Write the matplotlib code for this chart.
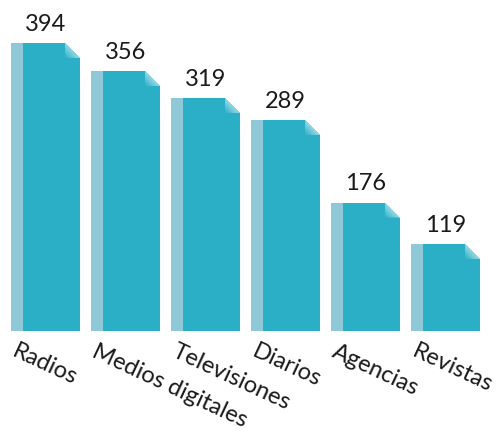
import numpy as np
import matplotlib
matplotlib.use("Agg")
import matplotlib.pyplot as plt
from matplotlib.patches import Polygon
from matplotlib.colors import LinearSegmentedColormap

plt.rcParams['font.family'] = ['Lato', 'DejaVu Sans']

categories = ["Radios", "Medios digitales", "Televisiones", "Diarios", "Agencias", "Revistas"]
values = [394, 356, 319, 289, 176, 119]

main_color = "#2aafc7"
strip_color = "#8fc9d8"

fig = plt.figure(figsize=(5.04, 4.32), dpi=100)
W, H = 504, 432
ax_bottom_px = 331
ax = fig.add_axes([0, (H - ax_bottom_px) / H, 1, ax_bottom_px / H])

pitch = 80.0
x = np.arange(len(categories))
bar_w = 69 / pitch
strip_w = 12 / pitch
ax.set_xlim(-45.5 / pitch, (W - 45.5) / pitch)
px_per_unit = 0.73
ax.set_ylim(0, ax_bottom_px / px_per_unit)
ax.axis("off")

# data units per pixel for the folded corner
dx = 1 / pitch
dy = 1 / px_per_unit
fold = 15
fold_cmap = LinearSegmentedColormap.from_list("fold", [main_color, "#ffffff"])

for xi, v in zip(x, values):
    left = xi - bar_w / 2
    right = xi + bar_w / 2
    ax.bar(left, v, width=bar_w, align="edge", color=main_color, linewidth=0)
    ax.bar(left, v, width=strip_w, align="edge", color=strip_color, linewidth=0)
    # cut corner (white)
    ax.add_patch(Polygon([(right - fold * dx, v), (right, v), (right, v - fold * dy)],
                         closed=True, color="white", linewidth=0, zorder=3))
    # folded flap with gradient
    flap = Polygon([(right - fold * dx, v), (right, v - fold * dy),
                    (right - fold * dx, v - fold * dy)], closed=True,
                   facecolor="none", linewidth=0, zorder=3)
    ax.add_patch(flap)
    g = np.linspace(0, 1, 64)
    grad = (g[None, :] + g[:, None]) / 2
    img = ax.imshow(grad, cmap=fold_cmap,
                    extent=(right - fold * dx, right, v - fold * dy, v), origin="lower",
                    aspect="auto", zorder=4)
    img.set_clip_path(flap)
    ax.annotate(str(v), (xi, v), xytext=(0, 6), textcoords="offset points",
                ha="center", va="bottom", fontsize=17, color="#1a1a1a")
    ax.annotate(categories[xi], (left, 0), xytext=(5, -7), textcoords="offset points",
                ha="left", va="top", rotation=-25, rotation_mode="anchor",
                fontsize=17, color="#1a1a1a")

fig.savefig("out.png", dpi=100)
